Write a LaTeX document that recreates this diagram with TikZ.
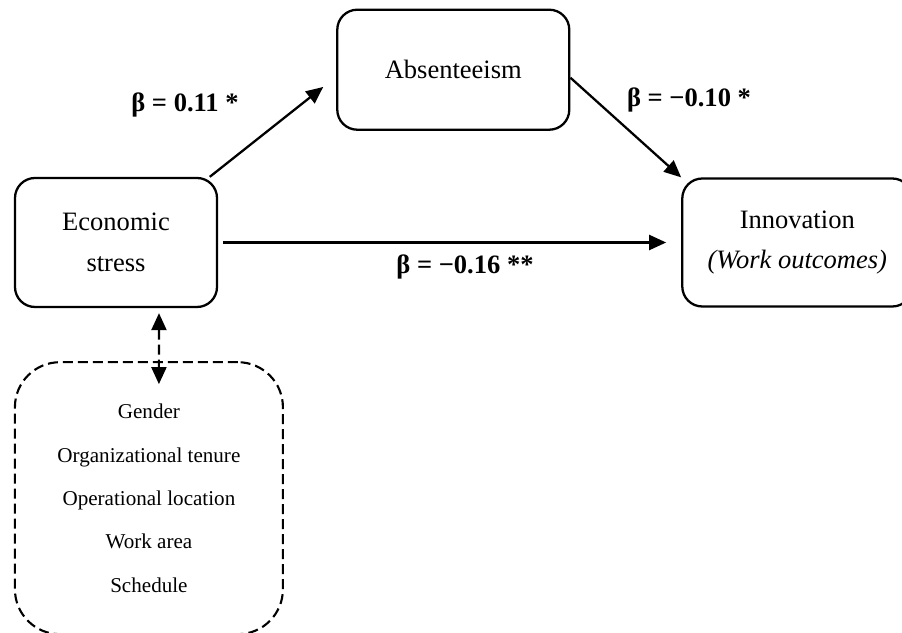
\documentclass[tikz,border=0pt]{standalone}
\usepackage{fontspec}
\setmainfont{Liberation Serif}
\usetikzlibrary{arrows.meta, positioning}

\begin{document}
\begin{tikzpicture}[
    every node/.style={align=center},
    varbox/.style={rectangle, rounded corners=0.4cm, draw=black, line width=1.3pt,
                   inner sep=0pt, font=\fontsize{15.1}{23}\selectfont},
    ctrlbox/.style={rectangle, rounded corners=0.9cm, draw=black, line width=1.2pt,
                    dash pattern=on 0.2cm off 0.1cm, inner sep=0pt,
                    minimum width=5.36cm, minimum height=5.44cm,
                    font=\fontsize{12}{24.7}\selectfont},
    arr/.style={-{Triangle[length=0.34cm, width=0.3cm]}, line width=1.3pt},
    dblarr/.style={{Triangle[length=0.34cm, width=0.3cm]}-{Triangle[length=0.34cm, width=0.3cm]},
                   line width=1.2pt, dash pattern=on 0.2cm off 0.1cm},
    lab/.style={font=\fontsize{15.1}{18}\selectfont\bfseries}
]
\useasboundingbox (0,0) rectangle (18.04,12.64);

% Nodes
\node[varbox, minimum width=4.04cm, minimum height=2.58cm] (econ) at (2.32,7.79)
    {Economic\\stress};

\node[varbox, minimum width=4.64cm, minimum height=2.4cm,
      above right=0.92cm and 2.36cm of econ] (absent)
    {Absenteeism};

\node[varbox, minimum width=4.6cm, minimum height=2.56cm,
      right=9.26cm of econ] (innov)
    {Innovation\\\textit{(Work outcomes)}};

\node[ctrlbox, below right=1.06cm and 0cm of econ.south west] (ctrl)
    {Gender\\Organizational tenure\\Operational location\\Work area\\Schedule};

% Labels
\node[lab] (b1) at (3.70,10.54) {β = 0.11 *};
\node[lab] (b2) at (13.78,10.64) {β = −0.10 *};
\node[lab] (b3) at (9.30,7.31) {β = −0.16 **};

% Arrows
\draw[arr, shorten >=0.33cm] (econ.35) -- ([yshift=-0.14cm]absent.west);
\draw[arr] ([yshift=-0.16cm]absent.east) -- (innov.north west);
\draw[arr, shorten <=0.1cm, shorten >=0.3cm] (econ.east) -- (innov.west);
\draw[dblarr, shorten <=0.1cm] ([xshift=0.86cm]econ.south) -- ([xshift=0.2cm, yshift=-0.46cm]ctrl.north);

\end{tikzpicture}
\end{document}
